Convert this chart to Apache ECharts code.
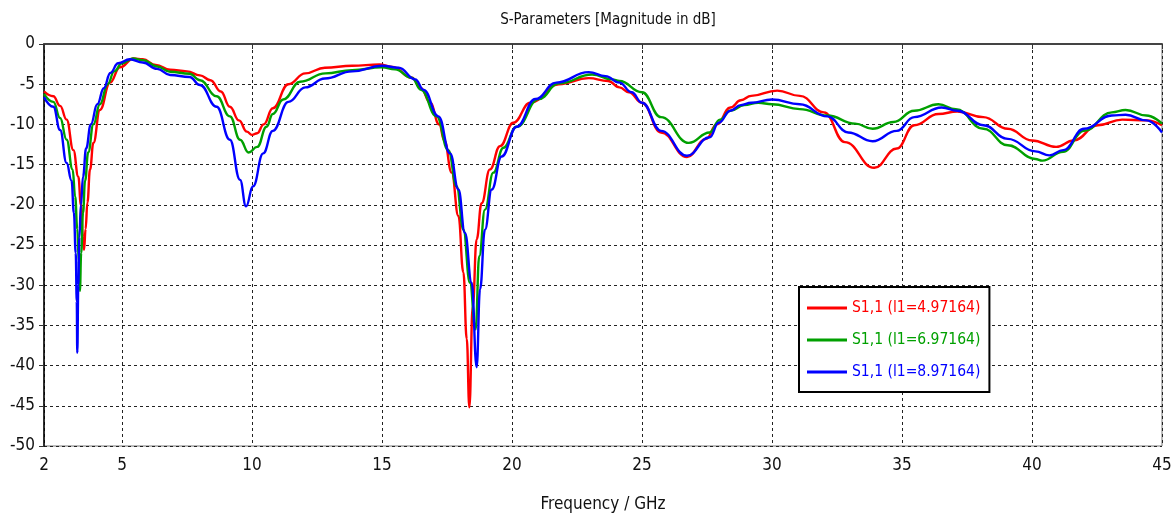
<!DOCTYPE html>
<html>
<head>
<meta charset="utf-8">
<script src="https://cdn.jsdelivr.net/npm/echarts@6/dist/echarts.min.js"></script>
<style>
  html, body { margin: 0; padding: 0; background: #fff; }
  #chart { width: 1176px; height: 518px; }
</style>
</head>
<body>
<div id="chart"></div>
<script>
// S11 magnitude (dB) versus frequency (GHz) for three values of l1
const xTicks = [2, 5, 10, 15, 20, 25, 30, 35, 40, 45];
const seriesNames = ['S1,1 (l1=4.97164)', 'S1,1 (l1=6.97164)', 'S1,1 (l1=8.97164)'];

const freqRed = [2.0, 2.36, 2.62, 2.87, 3.13, 3.32, 3.42, 3.5, 3.54, 3.6, 3.67, 3.77, 3.9, 4.15, 4.54, 4.92, 5.45, 5.8, 6.3, 6.85, 7.5, 8.0, 8.4, 8.8, 9.15, 9.5, 9.8, 10.0, 10.2, 10.45, 10.8, 11.4, 12.05, 12.8, 13.85, 14.9, 15.4, 16.15, 16.5, 16.85, 17.2, 17.4, 17.68, 17.94, 18.13, 18.26, 18.36, 18.49, 18.64, 18.83, 19.15, 19.54, 20.05, 20.7, 21.8, 22.95, 23.7, 24.13, 24.5, 25.0, 25.73, 26.73, 27.47, 27.87, 28.4, 28.8, 29.2, 30.2, 31.07, 32.0, 32.8, 33.93, 34.8, 35.47, 36.4, 37.13, 38.13, 39.07, 40.0, 40.93, 41.6, 42.53, 43.47, 44.4, 45.0];
const s11Red = [-5.9, -6.5, -7.7, -9.4, -13.2, -16.5, -20.0, -24.0, -25.6, -23.0, -19.7, -15.6, -12.3, -8.2, -4.8, -2.9, -1.8, -1.9, -2.6, -3.2, -3.4, -3.9, -4.5, -5.9, -7.8, -9.5, -10.9, -11.3, -11.1, -10.0, -8.0, -5.0, -3.65, -2.95, -2.7, -2.55, -2.85, -4.2, -5.5, -7.3, -10.0, -12.0, -16.0, -21.4, -28.4, -36.7, -45.2, -32.6, -24.3, -19.8, -15.6, -12.7, -9.8, -7.3, -5.0, -4.25, -4.6, -5.4, -6.0, -7.3, -11.0, -14.05, -11.8, -10.0, -7.9, -7.0, -6.45, -5.8, -6.45, -8.5, -12.2, -15.4, -13.0, -10.1, -8.7, -8.4, -9.1, -10.55, -12.0, -12.8, -12.0, -10.1, -9.4, -9.5, -10.1];

const freqGreen = [2.0, 2.36, 2.62, 2.87, 3.1, 3.2, 3.28, 3.34, 3.38, 3.43, 3.5, 3.58, 3.7, 3.9, 4.15, 4.45, 4.7, 5.0, 5.42, 5.8, 6.35, 6.85, 7.6, 8.0, 8.64, 9.15, 9.54, 9.87, 10.2, 10.56, 10.8, 11.2, 11.85, 12.82, 13.85, 15.0, 15.5, 16.15, 16.5, 17.1, 17.55, 17.87, 18.13, 18.38, 18.6, 18.74, 18.96, 19.28, 19.67, 20.18, 21.03, 21.8, 23.08, 23.85, 24.13, 25.0, 25.73, 26.8, 27.6, 28.0, 28.4, 28.93, 29.47, 30.0, 31.07, 32.13, 33.2, 33.87, 34.67, 35.47, 36.4, 37.07, 38.13, 39.07, 40.13, 40.4, 41.2, 42.0, 43.07, 43.6, 44.4, 45.0];
const s11Green = [-6.2, -7.2, -9.2, -11.9, -15.6, -19.0, -23.0, -27.0, -30.7, -26.0, -21.0, -17.0, -13.5, -10.0, -7.5, -5.0, -3.4, -2.4, -1.8, -2.0, -2.8, -3.45, -3.7, -4.5, -6.5, -9.0, -11.9, -13.5, -12.8, -10.3, -8.7, -6.9, -4.7, -3.65, -3.25, -2.9, -3.15, -4.2, -5.7, -9.0, -13.2, -17.7, -23.1, -29.7, -35.5, -26.4, -20.6, -16.0, -12.9, -10.3, -6.85, -4.9, -3.8, -4.4, -4.6, -6.0, -9.1, -12.3, -11.0, -9.4, -8.3, -7.6, -7.3, -7.5, -8.1, -8.9, -9.9, -10.55, -9.7, -8.3, -7.5, -8.1, -10.55, -12.6, -14.3, -14.5, -13.4, -10.8, -8.5, -8.2, -8.9, -9.9];

const freqBlue = [2.0, 2.36, 2.62, 2.87, 3.06, 3.15, 3.22, 3.26, 3.28, 3.32, 3.36, 3.42, 3.5, 3.62, 3.8, 4.05, 4.3, 4.55, 4.85, 5.3, 5.8, 6.35, 6.85, 7.6, 8.0, 8.64, 9.15, 9.54, 9.77, 10.04, 10.43, 10.8, 11.4, 12.05, 12.8, 13.85, 15.0, 15.64, 16.28, 16.6, 17.17, 17.62, 17.94, 18.19, 18.45, 18.64, 18.77, 18.96, 19.22, 19.6, 20.18, 20.9, 21.7, 22.95, 23.6, 24.13, 24.6, 25.0, 25.73, 26.73, 27.6, 27.95, 28.4, 28.8, 29.2, 30.0, 31.07, 32.13, 32.93, 33.87, 34.8, 35.47, 36.53, 37.13, 38.13, 39.07, 40.13, 40.67, 41.2, 42.0, 43.07, 43.6, 44.4, 45.0];
const s11Blue = [-6.6, -7.8, -10.7, -14.8, -17.0, -21.0, -26.0, -32.0, -38.4, -30.0, -24.0, -20.0, -16.5, -13.0, -10.0, -7.5, -5.5, -3.6, -2.4, -1.9, -2.3, -3.1, -3.85, -4.1, -5.1, -7.8, -11.9, -16.9, -20.2, -17.7, -13.6, -10.8, -7.2, -5.4, -4.3, -3.4, -2.7, -2.95, -4.4, -5.7, -9.0, -13.6, -18.1, -23.5, -29.7, -40.2, -30.5, -23.1, -18.1, -14.0, -10.3, -6.85, -4.8, -3.5, -4.0, -4.8, -6.0, -7.3, -10.8, -13.9, -11.6, -9.8, -8.3, -7.6, -7.3, -6.9, -7.5, -9.0, -11.0, -12.1, -10.8, -9.1, -7.9, -8.3, -10.1, -11.8, -13.35, -13.85, -13.2, -10.55, -8.9, -8.8, -9.5, -11.0];

const colors = ['#ff0000', '#00a000', '#0000ff'];
const FONT = "'Liberation Sans Narrow', 'DejaVu Sans Condensed', sans-serif";

function pairs(xs, ys) {
  return xs.map((x, i) => [x, ys[i]]);
}

const chart = echarts.init(document.getElementById('chart'), null, { renderer: 'canvas' });

const seriesData = [pairs(freqRed, s11Red), pairs(freqGreen, s11Green), pairs(freqBlue, s11Blue)];

chart.setOption({
  animation: false,
  backgroundColor: '#ffffff',
  title: {
    text: 'S-Parameters [Magnitude in dB]',
    left: 603,
    textAlign: 'center',
    top: 8,
    textStyle: { fontFamily: FONT, fontSize: 15, fontWeight: 'normal', color: '#111' }
  },
  grid: {
    left: 44, right: 14, top: 44, bottom: 71,
    show: true, borderColor: '#777', borderWidth: 1, backgroundColor: 'transparent'
  },
  legend: {
    orient: 'vertical',
    left: 799, top: 287,
    padding: [12, 9, 11, 8],
    itemGap: 14,
    itemWidth: 40,
    itemHeight: 3,
    icon: 'rect',
    backgroundColor: '#ffffff',
    borderColor: '#000',
    borderWidth: 2,
    data: seriesNames.map((n, i) => ({
      name: n,
      textStyle: { color: colors[i], fontFamily: FONT, fontSize: 15.5, lineHeight: 18 }
    }))
  },
  xAxis: {
    type: 'value',
    min: 2, max: 45,
    name: 'Frequency / GHz',
    nameLocation: 'middle',
    nameGap: 50,
    nameTextStyle: { fontFamily: FONT, fontSize: 17, color: '#111' },
    axisLine: { lineStyle: { color: '#444', width: 2 } },
    axisTick: { show: true, length: 5, customValues: xTicks, lineStyle: { color: '#333' } },
    axisLabel: { customValues: xTicks, fontFamily: FONT, fontSize: 17, color: '#111', margin: 11 },
    splitLine: { show: true, lineStyle: { color: '#222', type: [3, 3], width: 1 } }
  },
  yAxis: {
    type: 'value',
    min: -50, max: 0, interval: 5,
    axisLine: { show: true, lineStyle: { color: '#000', width: 1.5 } },
    axisTick: { show: true, length: 5, lineStyle: { color: '#333' } },
    axisLabel: { fontFamily: FONT, fontSize: 17, color: '#111', margin: 9 },
    splitLine: { show: true, lineStyle: { color: '#222', type: [3, 3], width: 1 } }
  },
  series: seriesNames.map((n, i) => ({
    name: n,
    type: 'line',
    data: seriesData[i],
    showSymbol: false,
    symbol: 'none',
    smooth: 0.45,
    smoothMonotone: 'x',
    lineStyle: { color: colors[i], width: 2.4 },
    itemStyle: { color: colors[i] },
    z: 3 + i
  }))
});
</script>
</body>
</html>
